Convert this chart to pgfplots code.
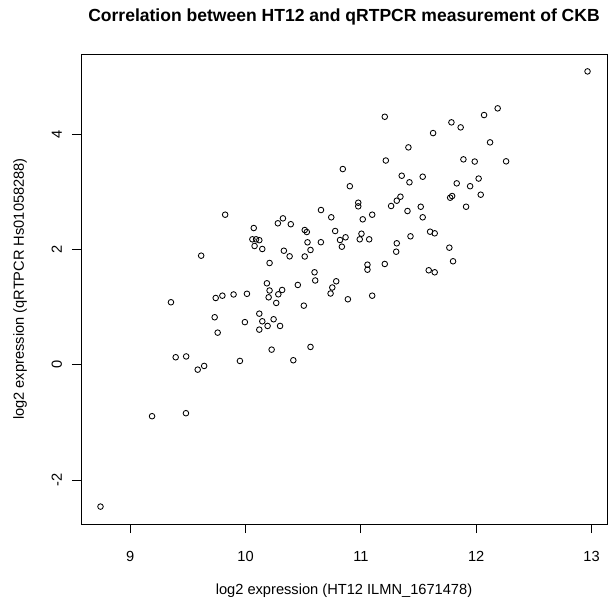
\documentclass[border=0pt]{standalone}
\usepackage{fontspec}
\setmainfont{Liberation Sans}
\usepackage{pgfplots}
\usepackage{pgfplotstable}
\pgfplotsset{compat=1.18}
\pgfplotstableread{
x y
9.823 2.603
9.615 1.892
10.071 2.372
10.059 2.176
10.091 2.176
10.119 2.161
10.078 2.060
10.145 2.008
10.324 2.540
10.280 2.454
10.392 2.438
10.332 1.978
10.382 1.881
10.208 1.765
10.513 2.337
10.531 2.303
10.537 2.124
10.563 1.991
10.513 1.878
10.654 2.684
10.743 2.558
10.777 2.320
10.653 2.126
10.819 2.164
10.598 1.604
10.604 1.462
10.786 1.448
10.185 1.413
10.208 1.288
10.317 1.297
10.453 1.384
10.752 1.340
10.737 1.236
10.200 1.170
10.284 1.222
10.012 1.231
9.896 1.219
9.799 1.198
9.741 1.158
9.353 1.084
10.266 1.072
10.505 1.025
9.732 0.824
9.758 0.557
9.994 0.739
10.119 0.886
10.145 0.754
10.119 0.609
10.191 0.673
10.243 0.789
10.299 0.673
10.226 0.262
10.563 0.309
9.951 0.066
10.414 0.078
9.394 0.130
9.485 0.144
9.585 -0.085
9.641 -0.021
9.189 -0.893
9.483 -0.841
8.742 -2.461
10.887 1.136
11.098 1.198
12.965 5.089
12.186 4.448
12.068 4.332
11.207 4.302
11.785 4.205
11.865 4.118
11.626 4.019
12.120 3.858
11.412 3.771
11.216 3.543
11.889 3.563
11.987 3.525
12.259 3.529
10.843 3.395
11.354 3.279
11.421 3.165
11.536 3.262
11.831 3.147
12.021 3.230
11.947 3.097
10.904 3.097
11.774 2.898
11.791 2.927
12.039 2.950
11.912 2.741
11.343 2.915
11.311 2.846
11.262 2.754
10.977 2.811
10.977 2.748
11.098 2.603
11.016 2.523
11.404 2.667
11.519 2.741
11.536 2.558
10.867 2.211
10.835 2.048
11.005 2.273
10.990 2.176
11.072 2.176
11.430 2.228
11.600 2.308
11.640 2.280
11.311 2.107
11.306 1.961
11.767 2.031
11.799 1.795
11.057 1.736
11.057 1.649
11.207 1.748
11.588 1.639
11.640 1.604
}\datatable
\begin{document}
\fontsize{14.7}{17}\selectfont
\begin{tikzpicture}
\begin{axis}[
  scale only axis, width=526bp, height=470bp,
  xmin=8.573, xmax=13.134, ymin=-2.763, ymax=5.391,
  axis line style={line width=0.8bp, black},
  xtick={9,10,11,12,13}, ytick={-2,0,2,4},
  tick pos=left,
  tick align=outside, major tick length=9bp,
  tick style={black, line width=0.8bp},
  /pgf/number format/assume math mode=true,
  ticklabel style={font=\fontsize{14.7}{17}\selectfont},
  xticklabel style={anchor=base},
  xticklabel shift=28bp,
  yticklabel style={anchor=base, rotate=90},
  yticklabel shift=10bp,
  title={Correlation between HT12 and qRTPCR measurement of CKB},
  title style={at={(axis description cs:0.5,1.05745)}, anchor=base, font=\bfseries\fontsize{17.6}{20}\selectfont},
  xlabel={log2 expression (HT12 ILMN\_1671478)},
  xlabel style={at={(axis description cs:0.5,-0.14894)}, anchor=base, font=\fontsize{14.7}{17}\selectfont},
  ylabel={log2 expression (qRTPCR Hs01058288)},
  ylabel style={at={(axis description cs:-0.1084,0.5)}, anchor=base, rotate=0, font=\fontsize{14.7}{17}\selectfont},
]
\addplot[only marks, mark=o, mark size=2.8bp, mark options={line width=0.85bp, black}] table[x=x, y=y] {\datatable};
\end{axis}
\pgfresetboundingbox
\path ([shift={(-81bp,-79bp)}]current axis.south west) rectangle ([shift={(7bp,54bp)}]current axis.north east);
\end{tikzpicture}
\end{document}
